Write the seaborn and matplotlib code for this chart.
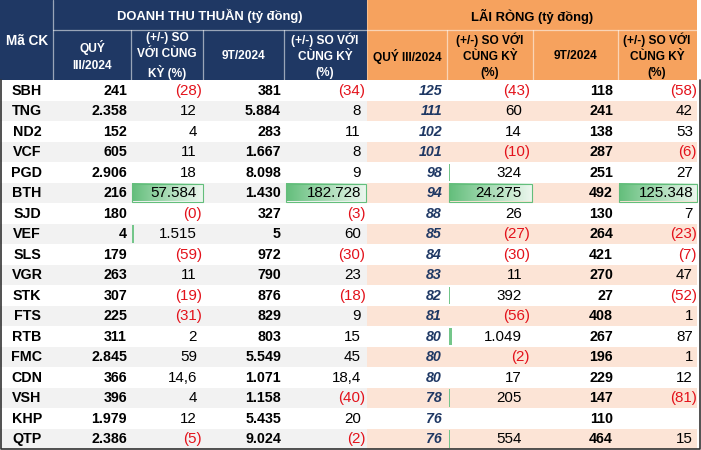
import numpy as np
import seaborn as sns
import matplotlib.pyplot as plt
from matplotlib.colors import ListedColormap, LinearSegmentedColormap
from matplotlib.patches import Rectangle

tickers = ['SBH', 'TNG', 'ND2', 'VCF', 'PGD', 'BTH', 'SJD', 'VEF', 'SLS',
           'VGR', 'STK', 'FTS', 'RTB', 'FMC', 'CDN', 'VSH', 'KHP', 'QTP']
rev_q = [241, 2358, 152, 605, 2906, 216, 180, 4, 179, 263, 307, 225, 311, 2845, 366, 396, 1979, 2386]
rev_q_yoy = [-28, 12, 4, 11, 18, 57584, -0.0, 1515, -59, 11, -19, -31, 2, 59, 14.6, 4, 12, -5]
rev_9t = [381, 5884, 283, 1667, 8098, 1430, 327, 5, 972, 790, 876, 829, 803, 5549, 1071, 1158, 5435, 9024]
rev_9t_yoy = [-34, 8, 11, 8, 9, 182728, -3, 60, -30, 23, -18, 9, 15, 45, 18.4, -40, 20, -2]
np_q = [125, 111, 102, 101, 98, 94, 88, 85, 84, 83, 82, 81, 80, 80, 80, 78, 76, 76]
np_q_yoy = [-43, 60, 14, -10, 324, 24275, 26, -27, -30, 11, 392, -56, 1049, -2, 17, 205, None, 554]
np_9t = [118, 241, 138, 287, 251, 492, 130, 264, 421, 270, 27, 408, 267, 196, 229, 147, 110, 464]
np_9t_yoy = [-58, 42, 53, -6, 27, 125348, 7, -23, -7, 47, -52, 1, 87, 1, 12, -81, None, 15]

NAVY = '#1F3864'
ORANGE = '#F6A25E'
PEACH = '#FCE4D6'
GREY = '#F2F2F2'
RED = '#E3121B'
GREEN = '#63BE7B'

W, H = 701, 450
TOP, BOTTOM = 80, 449
n = len(tickers)
rh = (BOTTOM - TOP) / n


def fmt(v):
    if v is None:
        return ''
    a = abs(v)
    if a != int(a):
        s = f'{a:.1f}'.replace('.', ',')
    else:
        s = f'{int(a):,}'.replace(',', '.')
    return f'({s})' if np.signbit(v) else s


sns.set_theme(style='white')
plt.rcParams['font.family'] = ['Liberation Sans', 'DejaVu Sans']

fig = plt.figure(figsize=(W / 100, H / 100), dpi=100)

# row shading of the body with seaborn heatmaps (left half grey, right half peach)
stripes = np.array([[i % 2] for i in range(n)])
for x0, x1, shade in [(0, 367, GREY), (367, 697, PEACH)]:
    hax = fig.add_axes([x0 / W, (H - BOTTOM) / H, (x1 - x0) / W, (BOTTOM - TOP) / H])
    sns.heatmap(stripes, ax=hax, cmap=ListedColormap(['white', shade]), vmin=0, vmax=1,
                cbar=False, xticklabels=False, yticklabels=False)
    hax.set_axis_off()

ax = fig.add_axes([0, 0, 1, 1], facecolor='none')
ax.set_axis_off()

# header blocks
ax.add_patch(Rectangle((0, 0), 367, TOP, color=NAVY, lw=0))
ax.add_patch(Rectangle((367, 0), 330, TOP, color=ORANGE, lw=0))
line_kw = dict(color='white', alpha=0.55, lw=0.9)
ax.plot([53, 697], [30, 30], **line_kw)
for xv in [53, 131, 203, 284, 447, 533, 618]:
    ax.plot([xv, xv], [30 if xv != 53 else 0, TOP], **line_kw)
ax.plot([367, 367], [0, TOP], color='white', alpha=0.3, lw=0.8)

hfs = 8.6
ax.text(27, 41, 'Mã CK', color='white', weight='bold', fontsize=9.8, ha='center', va='center')
ax.text(210, 16, 'DOANH THU THUẦN (tỷ đồng)', color='white', weight='bold', fontsize=9.4,
        ha='center', va='center')
ax.text(532, 16, 'LÃI RÒNG (tỷ đồng)', color='black', weight='bold', fontsize=9.4,
        ha='center', va='center')
sub_left = [(92, 'QUÝ\nIII/2024'), (167, '(+/-) SO\nVỚI CÙNG\nKỲ (%)'),
            (243, '9T/2024'), (325, '(+/-) SO VỚI\nCÙNG KỲ\n(%)')]
sub_right = [(407, 'QUÝ III/2024'), (490, '(+/-) SO VỚI\nCÙNG KỲ\n(%)'),
             (575, '9T/2024'), (657, '(+/-) SO VỚI\nCÙNG KỲ\n(%)')]
for x, t in sub_left:
    ax.text(x, 56, t, color='white', weight='bold', fontsize=hfs, ha='center', va='center',
            linespacing=1.45)
for x, t in sub_right:
    ax.text(x, 56, t, color='black', weight='bold', fontsize=hfs, ha='center', va='center',
            linespacing=1.45)

# data bars
bar_cmap = LinearSegmentedColormap.from_list('bar', [GREEN, '#EEF8F0'])
grad = np.linspace(0, 1, 256).reshape(1, -1)
bar_cols = [(rev_q_yoy, 132, 70.5), (rev_9t_yoy, 285.5, 80.5),
            (np_q_yoy, 448.5, 83.5), (np_9t_yoy, 618.5, 78.5)]
for vals, x0, wmax in bar_cols:
    vmax = max(v for v in vals if v is not None)
    for i, v in enumerate(vals):
        if v is None or v <= 0:
            continue
        w = v / vmax * wmax
        if w < 0.5:
            continue
        y0 = TOP + i * rh + 1.5
        y1 = TOP + (i + 1) * rh - 1.5
        if w >= 5:
            ax.imshow(grad, cmap=bar_cmap, extent=(x0, x0 + w, y1, y0), aspect='auto',
                      interpolation='bilinear', zorder=2)
            ax.add_patch(Rectangle((x0, y0), w, y1 - y0, fill=False,
                                   edgecolor=GREEN, lw=0.8, zorder=3))
        else:
            ax.add_patch(Rectangle((x0, y0), max(w, 1.7), y1 - y0, facecolor='#74C68A',
                                   edgecolor='none', zorder=3))

# body text
dfs = 10.3
for i in range(n):
    yc = TOP + (i + 0.5) * rh + 0.6
    ax.text(27, yc, tickers[i], weight='bold', fontsize=dfs, ha='center', va='center', color='black')
    ax.text(127, yc, fmt(rev_q[i]), weight='bold', fontsize=dfs, ha='right', va='center', color='black')
    ax.text(281, yc, fmt(rev_9t[i]), weight='bold', fontsize=dfs, ha='right', va='center', color='black')
    ax.text(442, yc, fmt(np_q[i]), weight='bold', style='italic', fontsize=dfs, ha='right',
            va='center', color=NAVY)
    ax.text(613, yc, fmt(np_9t[i]), weight='bold', fontsize=dfs, ha='right', va='center', color='black')
    for vals, xpos, xneg in [(rev_q_yoy, 197, 202), (rev_9t_yoy, 361, 365.5),
                             (np_q_yoy, 522, 530), (np_9t_yoy, 693, 697)]:
        v = vals[i]
        if v is None:
            continue
        neg = np.signbit(v)
        ax.text(xneg if neg else xpos, yc, fmt(v), fontsize=dfs + 0.6, ha='right', va='center',
                color=RED if neg else 'black', zorder=4)

# outer border of the body
ax.plot([0.7, 0.7, 699.5, 699.5], [TOP, BOTTOM, BOTTOM, TOP], color='#333333', lw=1.2)

ax.set_xlim(0, W)
ax.set_ylim(H, 0)
fig.savefig('out.png', dpi=100)
